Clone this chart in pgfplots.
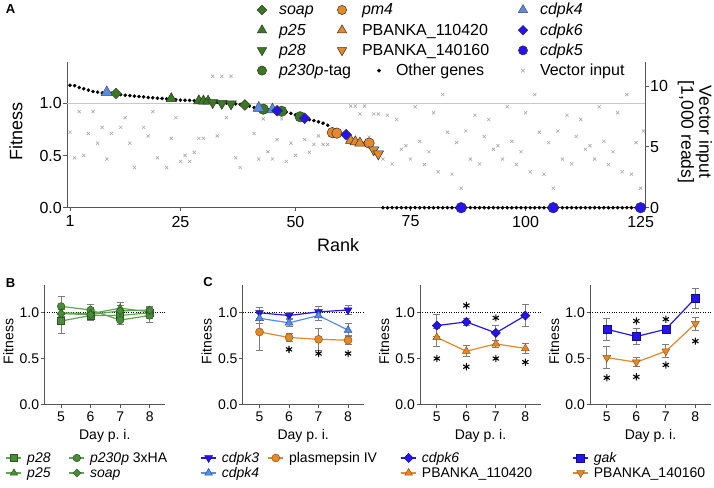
\documentclass[border=0pt]{standalone}
\usepackage{pgfplots}
\pgfplotsset{compat=1.18}
\usepackage{fontspec}
\setmainfont{Liberation Sans}
\definecolor{gA}{RGB}{58,122,30}
\definecolor{gB}{RGB}{74,140,60}
\definecolor{gBl}{RGB}{96,166,80}
\definecolor{gD}{RGB}{40,90,25}
\definecolor{orng}{RGB}{228,136,40}
\definecolor{orngD}{RGB}{150,85,20}
\definecolor{lblue}{RGB}{86,140,232}
\definecolor{lblueD}{RGB}{40,80,160}
\definecolor{dblue}{RGB}{38,20,238}
\definecolor{dblueD}{RGB}{20,10,140}
\definecolor{axgray}{RGB}{85,85,85}
\definecolor{crossgray}{RGB}{170,170,170}
\definecolor{refgray}{RGB}{200,200,200}
\definecolor{errgray}{RGB}{125,125,125}
\newcommand{\fA}{\fontsize{16}{19}\selectfont}
\newcommand{\fAl}{\fontsize{18}{19}\selectfont}
\newcommand{\fAr}{\fontsize{17.5}{18}\selectfont}
\newcommand{\fB}{\fontsize{14}{16}\selectfont}
\pgfplotsset{
  /pgf/number format/assume math mode=true,
  base/.style={scale only axis, anchor=south west, clip=false,
    tick align=outside, major tick length=3.5pt,
    tick style={axgray, line width=0.8pt},
    axis line style={-, draw=axgray, line width=0.8pt}},
  legA/.style={legend columns=3, legend cell align=left,
    legend image code/.code={\path[draw=none, fill=none] (-6pt,-6pt) rectangle (6pt,6pt); \draw[##1] plot coordinates {(0pt,0pt)};},
    legend style={anchor=north west, draw=none, fill=none, inner sep=0pt, outer sep=0pt,
      row sep=6.2pt, font=\fA, nodes={inner sep=0pt, text height=12pt, text depth=2pt},
      /tikz/every odd column/.append style={column sep=11pt}}},
  small/.style={base, width=121pt, height=119pt, xmin=4.43, xmax=8.53, ymin=0, ymax=1.3,
    axis x line*=bottom, axis y line*=left, xtick pos=left, ytick pos=left,
    xtick={5,6,7,8}, ytick={0,0.5,1},
    yticklabel style={/pgf/number format/fixed, /pgf/number format/fixed zerofill, /pgf/number format/precision=1},
    ticklabel style={font=\fB, inner sep=1.5pt},
    xticklabel style={yshift=-2pt},
    xlabel={Day p.\ i.}, ylabel={Fitness},
    every axis y label/.style={at={(axis description cs:-0.2975,0.528)}, rotate=90, anchor=center, font=\fB},
    every axis x label/.style={at={(axis description cs:0.5,-0.266)}, anchor=center, font=\fB},
    legend cell align=left,
    legend image code/.code={\path[draw=none, fill=none] (-7.5pt,-4.5pt) rectangle (7.5pt,4.5pt); \draw[##1, mark=none] (-7.5pt,0pt) -- (7.5pt,0pt); \draw[##1] plot coordinates {(0pt,0pt)};},
    legend style={anchor=north west, draw=none, fill=none, inner sep=0pt, outer sep=0pt,
      row sep=3pt, font=\fB, nodes={inner sep=0pt, text height=10.5pt, text depth=1.5pt},
      /tikz/every odd column/.append style={column sep=5.2pt}}},
  eb/.style={/pgfplots/error bars/y dir=both, /pgfplots/error bars/y explicit,
    /pgfplots/error bars/error bar style={errgray, line width=0.8pt, solid},
    /pgfplots/error bars/error mark options={rotate=90, mark size=3.5pt, errgray, line width=0.8pt}},
  refl/.style={black, line width=0.8pt, dash pattern=on 0.8pt off 1.6pt, forget plot},
  ast/.style={only marks, mark=asterisk, mark size=3.6pt, black, line width=1.1pt, forget plot},
}
\begin{document}
\begin{tikzpicture}
\useasboundingbox (0,0) rectangle (714pt,487pt);
% ---------------- Panel A: vector input (right axis) ----------------
\begin{axis}[base, legA,
  at={(67pt,279.3pt)}, width=578pt, height=146pt,
  xmin=0.35, xmax=125.95, ymin=0, ymax=12,
  axis x line=none, xtick=\empty, axis y line*=right, ytick pos=right, yticklabel pos=right,
  ytick={0,5,10}, ticklabel style={font=\fA, inner sep=1.5pt},
  every axis y label/.style={at={(axis description cs:1.0865,0.518)}, rotate=-90, anchor=center, align=center, font=\fAr},
  ylabel={Vector input\\{[}1,000 reads{]}},
  legend style={at={(axis description cs:0.327,0.987)}},
]
\addplot[only marks, mark=x, mark size=2.2pt, crossgray, line width=0.6pt, forget plot] coordinates {
(1,6.2)(2,4.1)(3,7.9)(4,4.3)(5,6.1)(6,7.9)(7,5.3)(8,6.6)(9,4.0)(10,6.1)(12,6.6)(13,7.4)(14,5.3)(15,3.3)
(17,6.6)(18,5.9)(19,7.9)(20,4.1)(22,3.3)(23,5.7)(24,7.4)(25,3.8)(26,4.3)(27,3.8)(28,4.55)(29,5.7)(30,5.7)
(32,10.8)(33,5.9)(34,10.8)(35,7.4)(36,10.8)(37,4.1)(38,3.3)(41,6.1)(42,4.0)(43,7.3)(44,4.6)(45,4.0)(46,5.6)
(47,7.3)(48,3.8)(49,5.3)(50,4.3)(52,5.6)(53,4.55)(54,5.2)(55,5.9)(56,5.2)(57,5.2)(62,8.35)(63,8.35)(64,7.7)
(65,8.35)(66,5.8)(67,7.7)(68,7.7)(69,4.0)(70,7.6)(71,3.6)(72,7.25)(73,4.8)(74,5.1)(75,4.0)(76,8.3)(77,5.45)
(78,3.55)(79,4.6)(80,7.8)(81,2.95)(82,9.3)(83,6.2)(84,2.75)(85,5.35)(86,1.6)(87,6.3)(88,4.0)(89,7.6)(90,3.6)
(91,5.85)(92,7.25)(93,4.8)(94,5.1)(95,4.0)(96,8.3)(97,5.45)(98,3.55)(99,4.6)(100,7.8)(101,2.95)(102,9.3)
(103,6.2)(104,2.75)(105,5.35)(106,1.6)(107,6.3)(108,4.0)(109,7.6)(110,3.6)(111,5.85)(112,7.25)(113,4.8)
(114,5.1)(115,4.0)(116,8.3)(117,5.45)(118,3.55)(119,4.6)(120,7.8)(121,2.95)(122,9.3)(123,2.75)(124,5.35)
(125,1.6)(125.6,6.3)};
\addlegendimage{mark=*, mark size=4.6pt, fill=gA, draw=black!80, line width=0.5pt}
\addlegendentry{\makebox[94pt][l]{\textit{p230p}-tag}}
\addlegendimage{mark=*, mark size=1.8pt, fill=black, draw=black}
\addlegendentry{\makebox[121pt][l]{Other genes}}
\addlegendimage{mark=x, mark size=2.5pt, draw=crossgray, line width=0.6pt}
\addlegendentry{\makebox[100pt][l]{Vector input}}
\end{axis}
% ---------------- Panel A: fitness ----------------
\begin{axis}[base, legA,
  at={(67pt,279.3pt)}, width=578pt, height=146pt,
  xmin=0.35, xmax=125.95, ymin=0, ymax=1.4,
  axis x line*=bottom, axis y line*=left, xtick pos=left, ytick pos=left,
  xtick={1,25,50,75,100,125}, ytick={0,0.5,1},
  yticklabel style={/pgf/number format/fixed, /pgf/number format/fixed zerofill, /pgf/number format/precision=1},
  ticklabel style={font=\fA, inner sep=1.5pt},
  xticklabel style={yshift=-3pt},
  every axis y label/.style={at={(axis description cs:-0.0882,0.522)}, rotate=90, anchor=center, font=\fAl},
  every axis x label/.style={at={(axis description cs:0.469,-0.255)}, anchor=center, font=\fAl},
  xlabel={Rank}, ylabel={Fitness},
  legend style={at={(axis description cs:0.327,1.4021)}},
]
\addplot[refgray, line width=0.8pt, forget plot] coordinates {(0.35,1) (125.95,1)};
\addplot[only marks, mark=*, mark size=1.6pt, black, forget plot] coordinates {
(1,1.175)(2,1.17)(3,1.152)(4,1.14)(5,1.127)(6,1.114)(7,1.108)(8,1.10)(9,1.10)(10,1.097)(11,1.093)(12,1.085)
(13,1.079)(14,1.075)(15,1.07)(16,1.067)(17,1.063)(18,1.057)(19,1.054)(20,1.05)(21,1.048)(22,1.044)(23,1.04)
(24,1.035)(25,1.032)(26,1.031)(27,1.029)(28,1.025)(29,1.02)(30,1.018)(31,1.016)(32,1.013)(33,1.01)(34,1.006)
(35,1.003)(36,1.0)(37,0.995)(38,0.99)(39,0.985)(40,0.975)(41,0.96)(42,0.95)(43,0.945)(44,0.94)(45,0.935)
(46,0.93)(47,0.925)(48,0.918)(49,0.905)(50,0.89)(51,0.872)(52,0.857)(53,0.845)(54,0.835)(55,0.825)(56,0.81)
(57,0.79)(58,0.72)(59,0.715)(60,0.71)(61,0.70)(62,0.645)(63,0.632)(64,0.62)(65,0.62)(66,0.615)(67,0.555)
(68,0.515)(69,0)(70,0)(71,0)(72,0)(73,0)(74,0)(75,0)(76,0)(77,0)(78,0)(79,0)(80,0)(81,0)(82,0)(83,0)(84,0)
(85,0)(86,0)(87,0)(88,0)(89,0)(90,0)(91,0)(92,0)(93,0)(94,0)(95,0)(96,0)(97,0)(98,0)(99,0)(100,0)(101,0)
(102,0)(103,0)(104,0)(105,0)(106,0)(107,0)(108,0)(109,0)(110,0)(111,0)(112,0)(113,0)(114,0)(115,0)(116,0)
(117,0)(118,0)(119,0)(120,0)(121,0)(122,0)(123,0)(124,0)(125,0)};
% green genes
\addplot[only marks, forget plot, mark=square*, mark size=3.8pt, mark options={rotate=45}, fill=gA, draw=black!80, line width=0.5pt] coordinates {(11,1.095)(39,0.985)};
\addplot[only marks, forget plot, mark=triangle*, mark size=6pt, fill=gA, draw=black!80, line width=0.5pt] coordinates {(23,1.045)(29,1.025)(30,1.023)(31,1.021)};
\addplot[only marks, forget plot, mark=triangle*, mark size=6pt, mark options={rotate=180}, fill=gA, draw=black!80, line width=0.5pt] coordinates {(32,1.008)(34,1.0)(36,0.995)};
\addplot[only marks, forget plot, mark=*, mark size=5.2pt, fill=gA, draw=black!80, line width=0.5pt] coordinates {(43,0.945)(47,0.925)(51,0.872)};
% orange genes
\addplot[only marks, forget plot, mark=*, mark size=5.2pt, fill=orng, draw=black!80, line width=0.5pt] coordinates {(58,0.72)(59,0.715)(66,0.62)};
\addplot[only marks, forget plot, mark=triangle*, mark size=6pt, fill=orng, draw=black!80, line width=0.5pt] coordinates {(62,0.645)(63,0.632)(64,0.62)};
\addplot[only marks, forget plot, mark=triangle*, mark size=6pt, mark options={rotate=180}, fill=orng, draw=black!80, line width=0.5pt] coordinates {(67,0.555)(68,0.515)};
% blue genes
\addplot[only marks, forget plot, mark=triangle*, mark size=6.5pt, fill=lblue, draw=black!70, line width=0.5pt] coordinates {(9,1.105)(42,0.955)(45,0.94)};
\addplot[only marks, forget plot, mark=square*, mark size=3.8pt, mark options={rotate=45}, fill=dblue, draw=black!80, line width=0.5pt] coordinates {(46,0.93)(52,0.857)(61,0.70)};
\addplot[only marks, forget plot, mark=*, mark size=5.3pt, fill=dblue, draw=black!80, line width=0.5pt] coordinates {(86,0)(106,0)(125,0)};
% legend rows 1-3
\addlegendimage{mark=square*, mark size=3.4pt, mark options={rotate=45}, fill=gA, draw=black!80, line width=0.5pt}
\addlegendentry{\makebox[57pt][l]{\textit{soap}}}
\addlegendimage{mark=*, mark size=4.6pt, fill=orng, draw=black!80, line width=0.5pt}
\addlegendentry{\makebox[158pt][l]{\hspace{3pt}\textit{pm4}}}
\addlegendimage{mark=triangle*, mark size=5.4pt, fill=lblue, draw=black!70, line width=0.5pt}
\addlegendentry{\makebox[60pt][l]{\textit{cdpk4}}}
\addlegendimage{mark=triangle*, mark size=5.4pt, fill=gA, draw=black!80, line width=0.5pt}
\addlegendentry{\makebox[57pt][l]{\textit{p25}}}
\addlegendimage{mark=triangle*, mark size=5.4pt, fill=orng, draw=black!80, line width=0.5pt}
\addlegendentry{\makebox[158pt][l]{\hspace{3pt}PBANKA\_110420}}
\addlegendimage{mark=square*, mark size=3.4pt, mark options={rotate=45}, fill=dblue, draw=black!80, line width=0.5pt}
\addlegendentry{\makebox[60pt][l]{\textit{cdpk6}}}
\addlegendimage{mark=triangle*, mark size=5.4pt, mark options={rotate=180}, fill=gA, draw=black!80, line width=0.5pt}
\addlegendentry{\makebox[57pt][l]{\textit{p28}}}
\addlegendimage{mark=triangle*, mark size=5.4pt, mark options={rotate=180}, fill=orng, draw=black!80, line width=0.5pt}
\addlegendentry{\makebox[158pt][l]{\hspace{3pt}PBANKA\_140160}}
\addlegendimage{mark=*, mark size=4.6pt, fill=dblue, draw=black!80, line width=0.5pt}
\addlegendentry{\makebox[60pt][l]{\textit{cdpk5}}}
\end{axis}
% ---------------- Panel B ----------------
\begin{axis}[small, at={(44.3pt,82.7pt)}, legend columns=2,
  legend style={at={(axis description cs:-0.318,-0.4008)}}]
\addplot[refl] coordinates {(4.43,1) (8.53,1)};
\addplot[gBl, line width=1.2pt, mark=square*, mark size=3.6pt, mark options={fill=gB, draw=gD, line width=0.5pt}, eb]
  coordinates {(5,0.91) +- (0,0.14) (6,0.97) +- (0,0.05) (7,0.97) +- (0,0.05) (8,1.00) +- (0,0.06)};
\addlegendentry{\makebox[41.5pt][l]{\textit{p28}}}
\addplot[gBl, line width=1.2pt, mark=*, mark size=3.8pt, mark options={fill=gB, draw=gD, line width=0.5pt}, eb]
  coordinates {(5,1.07) +- (0,0.11) (6,1.03) +- (0,0.06) (7,0.92) +- (0,0.05) (8,0.97) +- (0,0.08)};
\addlegendentry{\textit{p230p} 3xHA}
\addplot[gBl, line width=1.2pt, mark=triangle*, mark size=4.2pt, mark options={fill=gB, draw=gD, line width=0.5pt}, eb]
  coordinates {(5,1.00) +- (0,0.06) (6,0.99) +- (0,0.05) (7,1.05) +- (0,0.06) (8,1.01) +- (0,0.05)};
\addlegendentry{\makebox[41.5pt][l]{\textit{p25}}}
\addplot[gBl, line width=1.2pt, mark=square*, mark size=2.8pt, mark options={rotate=45, fill=gB, draw=gD, line width=0.5pt}, eb]
  coordinates {(5,0.99) +- (0,0.05) (6,0.98) +- (0,0.05) (7,1.02) +- (0,0.06) (8,1.03) +- (0,0.04)};
\addlegendentry{\textit{soap}}
\end{axis}
% ---------------- Panel C1 ----------------
\begin{axis}[small, at={(242.7pt,82.7pt)}, legend columns=2,
  legend style={at={(axis description cs:-0.3488,-0.4008)}}]
\addplot[refl] coordinates {(4.43,1) (8.53,1)};
\addplot[dblue, line width=1.2pt, mark=triangle*, mark size=4.5pt, mark options={rotate=180, fill=dblue, draw=dblueD, line width=0.5pt}, eb]
  coordinates {(5,1.00) +- (0,0.06) (6,0.97) +- (0,0.03) (7,1.01) +- (0,0.06) (8,1.03) +- (0,0.05)};
\addlegendentry{\makebox[45.8pt][l]{\textit{cdpk3}}}
\addplot[orng, line width=1.2pt, mark=*, mark size=4pt, mark options={fill=orng, draw=orngD, line width=0.5pt}, eb]
  coordinates {(5,0.79) +- (0,0.20) (6,0.73) +- (0,0.04) (7,0.71) +- (0,0.12) (8,0.70) +- (0,0.05)};
\addlegendentry{plasmepsin IV}
\addplot[lblue, line width=1.2pt, mark=triangle*, mark size=4.5pt, mark options={fill=lblue, draw=lblueD, line width=0.5pt}, eb]
  coordinates {(5,0.94) +- (0,0.06) (6,0.89) +- (0,0.04) (7,0.97) +- (0,0.05) (8,0.81) +- (0,0.07)};
\addlegendentry{\makebox[45.8pt][l]{\textit{cdpk4}}}
\addplot[ast] coordinates {(6,0.60)(7,0.555)(8,0.555)};
\end{axis}
% ---------------- Panel C2 ----------------
\begin{axis}[small, at={(420pt,82.7pt)}, legend columns=1,
  legend style={at={(axis description cs:-0.161,-0.4008)}}]
\addplot[refl] coordinates {(4.43,1) (8.53,1)};
\addplot[dblue, line width=1.2pt, mark=square*, mark size=3.2pt, mark options={rotate=45, fill=dblue, draw=dblueD, line width=0.5pt}, eb]
  coordinates {(5,0.86) +- (0,0.12) (6,0.90) +- (0,0.04) (7,0.78) +- (0,0.08) (8,0.97) +- (0,0.12)};
\addlegendentry{\textit{cdpk6}}
\addplot[orng, line width=1.2pt, mark=triangle*, mark size=4.5pt, mark options={fill=orng, draw=orngD, line width=0.5pt}, eb]
  coordinates {(5,0.73) +- (0,0.10) (6,0.58) +- (0,0.06) (7,0.66) +- (0,0.04) (8,0.61) +- (0,0.05)};
\addlegendentry{PBANKA\_110420}
\addplot[ast] coordinates {(5,0.50)(6,1.08)(6,0.41)(7,0.944)(7,0.50)(8,0.46)};
\end{axis}
% ---------------- Panel C3 ----------------
\begin{axis}[small, at={(590pt,82.7pt)}, legend columns=1,
  legend style={at={(axis description cs:-0.1446,-0.4008)}}]
\addplot[refl] coordinates {(4.43,1) (8.53,1)};
\addplot[dblue, line width=1.2pt, mark=square*, mark size=4pt, mark options={fill=dblue, draw=dblueD, line width=0.5pt}, eb]
  coordinates {(5,0.82) +- (0,0.12) (6,0.74) +- (0,0.09) (7,0.82) +- (0,0.04) (8,1.16) +- (0,0.11)};
\addlegendentry{\textit{gak}}
\addplot[orng, line width=1.2pt, mark=triangle*, mark size=4.5pt, mark options={rotate=180, fill=orng, draw=orngD, line width=0.5pt}, eb]
  coordinates {(5,0.51) +- (0,0.12) (6,0.46) +- (0,0.05) (7,0.58) +- (0,0.07) (8,0.88) +- (0,0.07)};
\addlegendentry{PBANKA\_140160}
\addplot[ast] coordinates {(5,0.29)(6,0.91)(6,0.30)(7,0.93)(7,0.43)(8,0.69)};
\end{axis}
% panel letters
\node[font=\bfseries\fontsize{13}{15}\selectfont] at (10.5pt,477.5pt) {A};
\node[font=\bfseries\fontsize{13}{15}\selectfont] at (10.5pt,204pt) {B};
\node[font=\bfseries\fontsize{13}{15}\selectfont] at (208pt,205pt) {C};
\end{tikzpicture}
\end{document}
